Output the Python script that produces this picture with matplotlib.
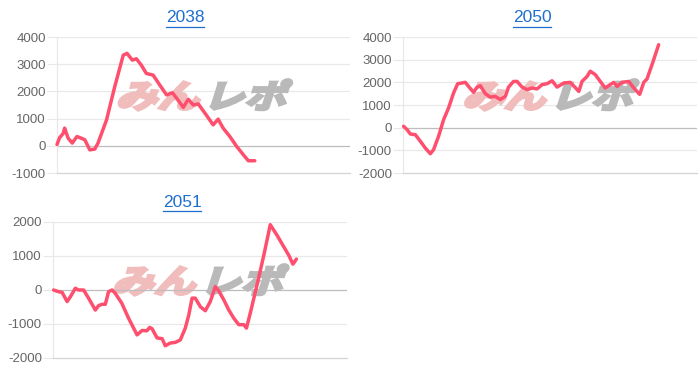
import numpy as np
import matplotlib
matplotlib.use("Agg")
import matplotlib.pyplot as plt
from matplotlib.textpath import TextPath
from matplotlib.patches import PathPatch
from matplotlib.font_manager import FontProperties
from matplotlib.transforms import Affine2D, IdentityTransform
from matplotlib.lines import Line2D

# --- data (x = progress within the chart range, 0..100) ---------------------
titles = ["2038", "2050", "2051"]

x_2038 = [0, 0.9, 2.1, 2.6, 3.8, 5.2, 6.8, 8.3, 9.5, 11.2, 12.9, 14.0, 16.9, 19.7,
          22.6, 23.9, 25.7, 27.1, 28.8, 30.5, 32.8, 35.1, 37.4, 39.4, 41.3, 43.1,
          44.8, 46.5, 48.2, 50.5, 53.3, 55.0, 56.7, 59.0, 61.3, 63.6, 65.3, 67.5]
y_2038 = [50, 300, 450, 650, 280, 100, 340, 280, 220, -150, -120, 100, 950, 2170,
          3330, 3400, 3150, 3200, 2960, 2660, 2600, 2230, 1870, 1950, 1680, 1410,
          1710, 1500, 1540, 1200, 770, 980, 650, 340, -20, -330, -550, -550]

x_2050 = [0.2, 1.4, 2.5, 4.2, 5.9, 7.6, 9.3, 10.4, 12.1, 13.8, 15.5, 17.2, 18.6,
          20.0, 21.2, 22.3, 24.0, 25.2, 26.3, 28.0, 29.7, 31.4, 33.1, 34.8, 35.9,
          37.6, 38.8, 40.5, 42.2, 43.9, 45.6, 47.3, 49.0, 50.7, 52.4, 54.7, 56.9,
          58.0, 59.8, 60.9, 62.6, 63.7, 65.4, 67.1, 68.8, 69.9, 71.7, 72.8, 74.5,
          76.8, 78.5, 80.5, 81.9, 83.0, 84.7, 86.96]
y_2050 = [60, -90, -280, -310, -600, -900, -1150, -970, -380, 350, 870, 1530,
          1940, 1970, 2000, 1820, 1560, 1790, 1850, 1500, 1350, 1380, 1240, 1380,
          1790, 2040, 2040, 1790, 1680, 1750, 1710, 1900, 1940, 2070, 1790, 1970,
          2000, 1850, 1600, 2040, 2260, 2490, 2340, 2040, 1750, 1850, 2000, 1820,
          2000, 2040, 1750, 1470, 2000, 2150, 2780, 3660]

x_2051 = [0.2, 1.9, 3.1, 4.8, 5.9, 7.6, 8.7, 10.4, 12.1, 14.4, 15.5, 16.7, 17.8,
          18.9, 20.1, 21.2, 23.4, 25.7, 28.6, 30.3, 31.9, 32.9, 33.7, 35.4, 37.1,
          38.2, 39.9, 41.6, 43.3, 45.0, 46.2, 47.3, 48.4, 50.1, 51.8, 53.5, 55.2,
          56.4, 58.1, 59.8, 61.5, 63.2, 64.9, 65.8, 67.1, 69.4, 71.7, 73.9, 76.2,
          78.5, 80.2, 81.6, 82.8]
y_2051 = [0, -50, -70, -340, -200, 50, 0, 0, -240, -590, -460, -420, -420, -50,
          0, -100, -390, -830, -1320, -1190, -1200, -1100, -1140, -1410, -1430,
          -1640, -1560, -1540, -1470, -1120, -730, -240, -240, -490, -610, -340,
          100, -30, -290, -590, -830, -1020, -1020, -1120, -680, 150, 1020, 1920,
          1610, 1270, 1020, 760, 910]

yticks_1 = [-1000, 0, 1000, 2000, 3000, 4000]
yticks_2 = [-2000, -1000, 0, 1000, 2000, 3000, 4000]
yticks_3 = [-2000, -1000, 0, 1000, 2000]

LINE = "#ff4f6e"
GRID = "#e8e8e8"
ZERO = "#bdbdbd"
TICK_TXT = "#666666"
TITLE = "#1f6fcf"

plt.rcParams["font.family"] = ["Liberation Sans", "DejaVu Sans"]

W, H = 700, 372
fig = plt.figure(figsize=(W / 100, H / 100), dpi=100)

# axes boxes in pixels: left, top, right, bottom
boxes = [(57, 37, 350, 173), (403, 37, 697, 173), (53, 222, 347, 358)]
title_pos = [(185, 18), (532, 18), (182, 203)]
series = [(x_2038, y_2038, yticks_1), (x_2050, y_2050, yticks_2),
          (x_2051, y_2051, yticks_3)]

wm_font = FontProperties(family="Noto Sans CJK JP", weight="bold")


def watermark(ax):
    fig.canvas.draw()
    cx, cy = ax.transAxes.transform((0.5, 0.57))
    parts = [("みん", "#f1bcbc"), ("レポ", "#b9b9b9")]
    size = 30
    paths = [TextPath((0, 0), t, size=size, prop=wm_font) for t, _ in parts]
    widths = [p.get_extents().x1 for p in paths]
    total = sum(widths) + 4
    x0 = -total / 2
    k = 100 / 72
    for (t, col), p, w in zip(parts, paths, widths):
        tr = (Affine2D().translate(x0, -size * 0.38).skew_deg(14, 0)
              .scale(k * 1.0, k * 0.78).translate(cx, cy) + IdentityTransform())
        ax.add_patch(PathPatch(p, transform=tr, facecolor=col, edgecolor=col,
                               linewidth=2.2, joinstyle="miter",
                               zorder=1, clip_on=False))
        x0 += w + 4


for (l, t, r, b), (xs, ys, yt), name, (tx, ty) in zip(boxes, series, titles, title_pos):
    ax = fig.add_axes([l / W, 1 - b / H, (r - l) / W, (b - t) / H])
    ax.plot(xs, ys, color=LINE, lw=2.5, solid_joinstyle="round",
            solid_capstyle="round", zorder=3, clip_on=False)
    ax.set_xlim(0, 100)
    ax.set_ylim(yt[0], yt[-1])
    ax.set_yticks(yt)
    ax.set_yticklabels([str(v) for v in yt])
    ax.set_xticks([])
    ax.tick_params(axis="y", length=7, width=0.8, color=GRID, pad=1,
                   labelsize=9.5, labelcolor=TICK_TXT)
    for v in yt:
        if v == 0:
            ax.axhline(v, color=ZERO, lw=0.9, zorder=2)
        elif v != yt[0]:
            ax.axhline(v, color=GRID, lw=0.9, zorder=0)
    for s in ["top", "right"]:
        ax.spines[s].set_visible(False)
    ax.spines["left"].set_color(GRID)
    ax.spines["left"].set_linewidth(0.9)
    ax.spines["bottom"].set_color("#d4d4d4")
    ax.spines["bottom"].set_linewidth(0.9)
    watermark(ax)

    txt = fig.text(tx / W, 1 - ty / H, name, ha="center", va="center",
                   fontsize=12.5, color=TITLE)
    fig.canvas.draw()
    bb = txt.get_window_extent()
    uy = bb.y0 - 1
    fig.add_artist(Line2D([bb.x0 / W, bb.x1 / W], [uy / H, uy / H],
                          transform=fig.transFigure, color=TITLE, lw=0.9))

fig.savefig("out.png", dpi=100)
